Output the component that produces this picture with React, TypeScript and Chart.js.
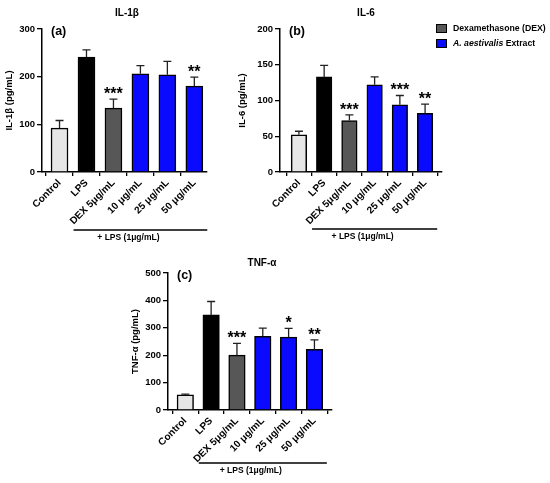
import React, { useEffect, useRef } from 'react';
import Chart from 'chart.js/auto';

const categories = ['Control', 'LPS', 'DEX 5μg/mL', '10 μg/mL', '25 μg/mL', '50 μg/mL'];
const barColors = ['#e6e6e6', '#000000', '#575757', '#0a0aff', '#0a0aff', '#0a0aff'];

const il1bValues = [92, 241, 134, 206, 204, 180];
const il1bErrors = [16, 15, 19, 17, 28, 19];
const il1bStars = ['', '', '***', '', '', '**'];

const il6Values = [52, 133, 72, 122, 94, 82];
const il6Errors = [5, 16, 8, 11, 13, 13];
const il6Stars = ['', '', '***', '', '***', '**'];

const tnfValues = [55, 347, 200, 269, 266, 221];
const tnfErrors = [3, 49, 43, 30, 32, 35];
const tnfStars = ['', '', '***', '', '*', '**'];

const legendLabels = ['Dexamethasone (DEX)', 'A. aestivalis', 'Extract'];
const bracketLabel = '+ LPS (1μg/mL)';

const FONT = '"Liberation Sans", Arial, Helvetica, sans-serif';

// error bars, stars, letter, title and the "+ LPS" bracket
const panelPlugin = {
  id: 'panelExtras',
  afterDatasetsDraw(chart: any, _args: any, opts: any) {
    const ctx = chart.ctx;
    const meta = chart.getDatasetMeta(0);
    const yScale = chart.scales.y;
    const xScale = chart.scales.x;
    const area = chart.chartArea;
    ctx.save();

    meta.data.forEach((bar: any, i: number) => {
      const top = yScale.getPixelForValue(opts.values[i] + opts.errors[i]);
      ctx.strokeStyle = '#222';
      ctx.lineWidth = 1.3;
      ctx.beginPath();
      ctx.moveTo(bar.x, bar.y);
      ctx.lineTo(bar.x, top);
      ctx.moveTo(bar.x - 4, top);
      ctx.lineTo(bar.x + 4, top);
      ctx.stroke();

      if (opts.stars[i]) {
        ctx.fillStyle = '#000';
        ctx.font = `bold 16px ${FONT}`;
        ctx.textAlign = 'center';
        ctx.textBaseline = 'alphabetic';
        ctx.fillText(opts.stars[i], bar.x, top);
      }
    });

    // panel letter
    ctx.fillStyle = '#000';
    ctx.font = `bold 12.5px ${FONT}`;
    ctx.textAlign = 'left';
    ctx.textBaseline = 'middle';
    ctx.fillText(opts.letter, area.left + 9, area.top + 3);

    // title
    ctx.font = `bold 10px ${FONT}`;
    ctx.textAlign = 'center';
    ctx.fillText(opts.title, opts.titleX, opts.titleY);

    // bracket
    const step = xScale.getPixelForValue(1) - xScale.getPixelForValue(0);
    const x0 = xScale.getPixelForValue(1) - step * 0.48;
    const x1 = xScale.getPixelForValue(5) + step * 0.48;
    const ly = area.bottom + opts.bracketY;
    ctx.strokeStyle = '#000';
    ctx.lineWidth = 1.5;
    ctx.beginPath();
    ctx.moveTo(x0, ly);
    ctx.lineTo(x1, ly);
    ctx.stroke();
    ctx.font = `bold 8.5px ${FONT}`;
    ctx.fillText(bracketLabel, (x0 + x1) / 2 - 12, ly + opts.labelGap);

    ctx.restore();
  },
};

type PanelProps = {
  values: number[];
  errors: number[];
  stars: string[];
  yMax: number;
  yStep: number;
  title: string;
  yTitle: string;
  letter: string;
  canvasBox: { left: number; top: number; width: number; height: number };
  area: { left: number; right: number; top: number; bottom: number };
  xMin: number;
  xMax: number;
  barWidth: number;
  titleX: number;
  bracketY: number;
  labelGap: number;
};

const Panel = (p: PanelProps) => {
  const canvasRef = useRef<HTMLCanvasElement>(null);

  useEffect(() => {
    const canvas = canvasRef.current;
    let chart: Chart | null = null;
    const box = p.canvasBox;
    const yAxisWidth = p.area.left - box.left;
    const xAxisHeight = box.top + box.height - p.area.bottom;

    if (canvas) {
      chart = new Chart(canvas, {
        type: 'bar',
        data: {
          datasets: [
            {
              data: p.values.map((v, i) => ({ x: i, y: v })),
              backgroundColor: barColors,
              borderColor: '#000',
              borderWidth: 1.5,
              borderSkipped: 'bottom',
              barThickness: p.barWidth,
            },
          ],
        },
        plugins: [panelPlugin],
        options: {
          animation: false,
          responsive: true,
          maintainAspectRatio: false,
          layout: {
            padding: {
              left: 0,
              top: p.area.top - box.top,
              right: box.left + box.width - p.area.right,
              bottom: 0,
            },
          },
          plugins: {
            legend: { display: false },
            tooltip: { enabled: false },
            panelExtras: {
              values: p.values,
              errors: p.errors,
              stars: p.stars,
              letter: p.letter,
              title: p.title,
              titleX: p.titleX - box.left,
              titleY: 13,
              bracketY: p.bracketY,
              labelGap: p.labelGap,
            },
          } as any,
          scales: {
            x: {
              type: 'linear',
              min: p.xMin,
              max: p.xMax,
              offset: false,
              afterBuildTicks: (scale: any) => {
                scale.ticks = categories.map((_, i) => ({ value: i }));
              },
              afterFit: (scale: any) => {
                scale.height = xAxisHeight;
              },
              ticks: {
                autoSkip: false,
                minRotation: 45,
                maxRotation: 45,
                padding: 1,
                color: '#000',
                font: { family: FONT, size: 10, weight: 'bold' },
                callback: (v: any) => categories[v] ?? '',
              },
              grid: {
                drawOnChartArea: false,
                drawTicks: true,
                tickLength: 4,
                color: '#000',
                lineWidth: 1.3,
              },
              border: { display: true, color: '#000', width: 1.5 },
            },
            y: {
              min: 0,
              max: p.yMax,
              afterFit: (scale: any) => {
                scale.width = yAxisWidth;
              },
              ticks: {
                stepSize: p.yStep,
                padding: 2,
                color: '#000',
                font: { family: FONT, size: 9.5, weight: 'bold' },
              },
              grid: {
                drawOnChartArea: false,
                drawTicks: true,
                tickLength: 5,
                color: '#000',
                lineWidth: 1.3,
              },
              border: { display: true, color: '#000', width: 1.5 },
              title: {
                display: true,
                text: p.yTitle,
                color: '#000',
                padding: { top: 4, bottom: 0 },
                font: { family: FONT, size: 9.5, weight: 'bold' },
              },
            },
          },
        },
      });
    }

    return () => {
      if (chart) {
        chart.destroy();
      }
    };
  }, []);

  const box = p.canvasBox;
  return (
    <div
      style={{
        position: 'absolute',
        left: box.left,
        top: box.top,
        width: box.width,
        height: box.height,
      }}
    >
      <canvas ref={canvasRef}></canvas>
    </div>
  );
};

const swatch = (color: string) => (
  <span
    style={{
      display: 'inline-block',
      width: 9,
      height: 7,
      background: color,
      border: '1px solid #000',
      marginRight: 6,
    }}
  />
);

const App = () => {
  return (
    <div
      style={{
        position: 'absolute',
        left: 0,
        top: 0,
        width: 550,
        height: 483,
        background: '#fff',
        overflow: 'hidden',
      }}
    >
      <Panel
        values={il1bValues}
        errors={il1bErrors}
        stars={il1bStars}
        yMax={300}
        yStep={100}
        title="IL-1β"
        yTitle="IL-1β (pg/mL)"
        letter="(a)"
        canvasBox={{ left: 0, top: 0, width: 215, height: 245 }}
        area={{ left: 42, right: 207, top: 29, bottom: 172 }}
        xMin={-0.65}
        xMax={5.47}
        barWidth={17}
        titleX={127}
        bracketY={58}
        labelGap={8}
      />
      <Panel
        values={il6Values}
        errors={il6Errors}
        stars={il6Stars}
        yMax={200}
        yStep={50}
        title="IL-6"
        yTitle="IL-6 (pg/mL)"
        letter="(b)"
        canvasBox={{ left: 233, top: 0, width: 215, height: 245 }}
        area={{ left: 280, right: 442, top: 29, bottom: 172 }}
        xMin={-0.75}
        xMax={5.67}
        barWidth={15.5}
        titleX={366}
        bracketY={57}
        labelGap={8}
      />
      <Panel
        values={tnfValues}
        errors={tnfErrors}
        stars={tnfStars}
        yMax={500}
        yStep={100}
        title="TNF-α"
        yTitle="TNF-α (pg/mL)"
        letter="(c)"
        canvasBox={{ left: 126, top: 250, width: 215, height: 233 }}
        area={{ left: 168, right: 332, top: 273, bottom: 410 }}
        xMin={-0.67}
        xMax={5.68}
        barWidth={16.5}
        titleX={262}
        bracketY={53}
        labelGap={8}
      />
      <div
        style={{
          position: 'absolute',
          left: 436,
          top: 21,
          fontFamily: FONT,
          fontWeight: 'bold',
          fontSize: 8.7,
          lineHeight: '15px',
          color: '#000',
          whiteSpace: 'nowrap',
        }}
      >
        <div style={{ display: 'flex', alignItems: 'center' }}>
          {swatch('#575757')}
          {legendLabels[0]}
        </div>
        <div style={{ display: 'flex', alignItems: 'center' }}>
          {swatch('#0a0aff')}
          <i>{legendLabels[1]}</i>&nbsp;{legendLabels[2]}
        </div>
      </div>
    </div>
  );
};

export default App;
